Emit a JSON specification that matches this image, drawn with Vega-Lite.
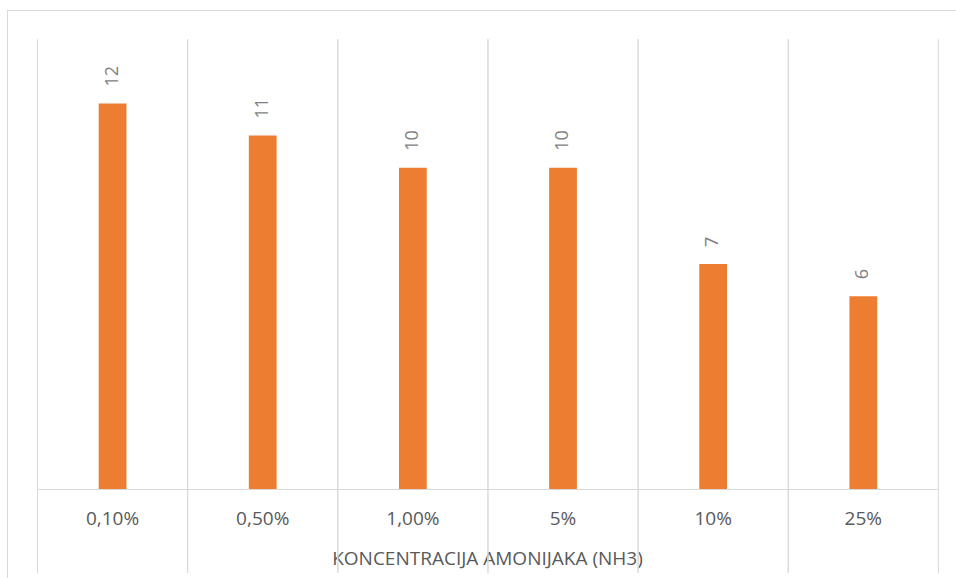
{
  "$schema": "https://vega.github.io/schema/vega-lite/v6.json",
  "width": 949,
  "height": 568,
  "autosize": {"type": "none"},
  "padding": {"left": 7, "top": 10, "right": 0, "bottom": 0},
  "background": "white",
  "config": {
    "view": {"stroke": null},
    "font": "Open Sans",
    "axisY": {"domain": true, "domainColor": "#d9d9d9", "domainWidth": 1, "ticks": false, "labels": false, "grid": false}
  },
  "data": {
    "values": [
      {"c": "0,10%", "v": 12},
      {"c": "0,50%", "v": 11},
      {"c": "1,00%", "v": 10},
      {"c": "5%", "v": 10},
      {"c": "10%", "v": 7},
      {"c": "25%", "v": 6}
    ]
  },
  "layer": [
    {
      "mark": {"type": "rule", "color": "#d9d9d9", "strokeWidth": 1},
      "encoding": {
        "x": {"field": "c", "type": "nominal", "sort": null, "bandPosition": 0, "title": "KONCENTRACIJA AMONIJAKA (NH3)",
              "scale": {"type": "band", "paddingInner": 0, "paddingOuter": 0.16025, "align": 0.634}},
        "y": {"datum": 14.0, "type": "quantitative", "axis": {"title": null}},
        "y2": {"datum": -2.61}
      }
    },
    {
      "mark": {"type": "rule", "color": "#d9d9d9", "strokeWidth": 1},
      "encoding": {
        "x": {"field": "c", "type": "nominal", "sort": null, "bandPosition": 1, "title": "KONCENTRACIJA AMONIJAKA (NH3)"},
        "y": {"datum": 14.0, "type": "quantitative", "axis": {"title": null}},
        "y2": {"datum": -2.61}
      }
    },
    {
      "mark": {"type": "rule", "color": "#d9d9d9", "strokeWidth": 1},
      "encoding": {
        "y": {"datum": 14.892, "type": "quantitative", "axis": {"title": null}}
      }
    },
    {
      "mark": {"type": "bar", "color": "#d9d9d9", "width": {"band": 1}},
      "encoding": {
        "x": {"field": "c", "type": "nominal", "sort": null, "title": "KONCENTRACIJA AMONIJAKA (NH3)"},
        "y": {"datum": 0, "type": "quantitative", "axis": {"title": null}},
        "y2": {"datum": -0.031}
      }
    },
    {
      "mark": {"type": "bar", "color": "#ed7d31", "width": {"band": 0.185}},
      "encoding": {
        "x": {"field": "c", "type": "nominal", "sort": null, "title": "KONCENTRACIJA AMONIJAKA (NH3)",
              "axis": {"offset": -89, "domain": false, "ticks": false, "grid": false, "labelAngle": 0, "labelAlign": "center", "labelBaseline": "top", "labelPadding": 20,
                       "labelFont": "Open Sans", "labelFontSize": 19, "labelColor": "#595959",
                       "titleFont": "Open Sans", "titleFontSize": 19, "titleFontWeight": "normal", "titleColor": "#595959",
                       "titleX": 480, "titleY": 75, "titleBaseline": "alphabetic"}},
        "y": {"field": "v", "type": "quantitative", "scale": {"domain": [-2.77, 14.908], "nice": false, "zero": false}, "axis": {"title": null}}
      }
    },
    {
      "mark": {"type": "text", "angle": 270, "align": "left", "baseline": "middle", "dx": 17, "fontSize": 18, "color": "#7f7f7f", "font": "Open Sans"},
      "encoding": {
        "x": {"field": "c", "type": "nominal", "sort": null, "title": "KONCENTRACIJA AMONIJAKA (NH3)"},
        "y": {"field": "v", "type": "quantitative", "axis": {"title": null}},
        "text": {"field": "v", "type": "quantitative"}
      }
    }
  ]
}
